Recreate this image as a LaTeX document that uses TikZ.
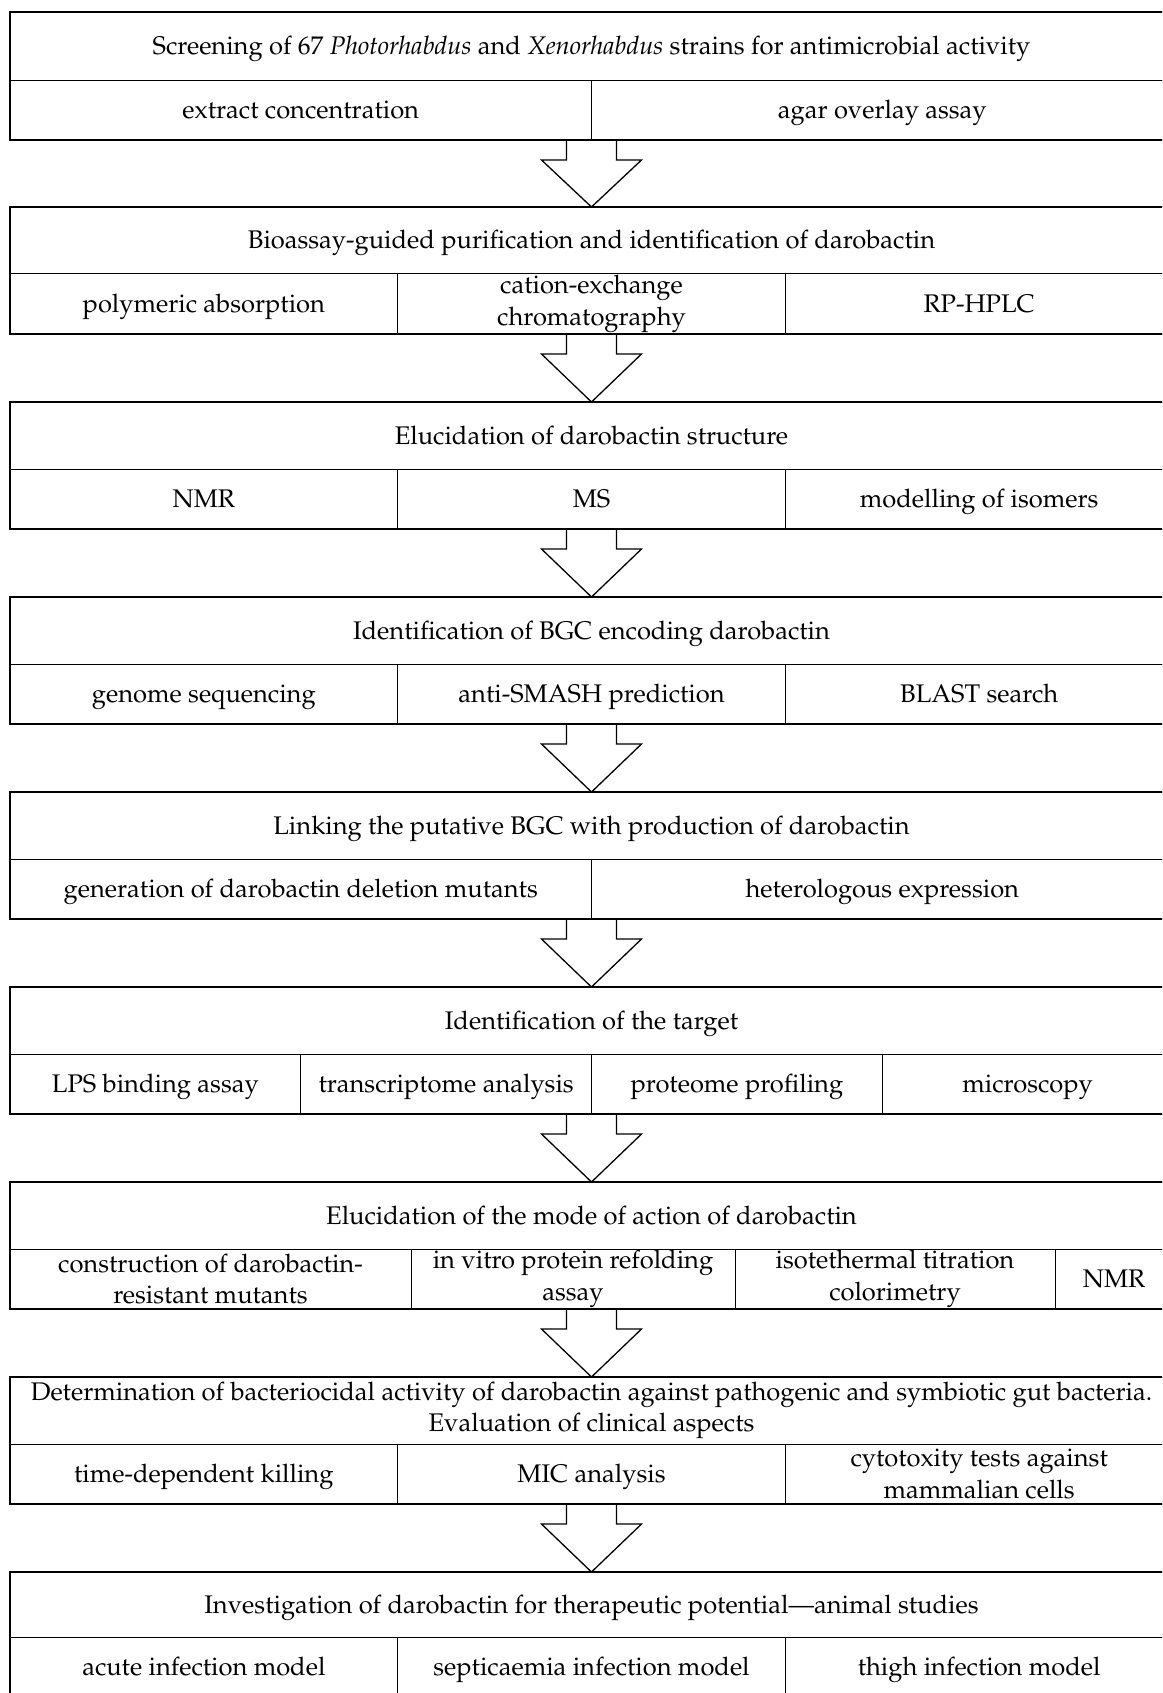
\documentclass[tikz,border=0pt]{standalone}
\usepackage[T1]{fontenc}
\usepackage{mathpazo}
\usepackage{tikz}
\usetikzlibrary{positioning,calc}

\newcommand{\flowarrow}[2]{\draw[blockarrow] ($(#1)+(-25,0)$) -- ++(0,20) -- ++(-25,0) -- (#2) -- ($(#1)+(50,20)$) -- ++(-25,0) -- ++(0,-20);}

\begin{document}
\begin{tikzpicture}[
    x=1pt, y=-1pt,
    font=\fontsize{25.5}{31.3}\selectfont,
    titlebox/.style={rectangle, draw, line width=1pt, minimum width=1163pt, minimum height=67pt, inner sep=0pt, outer sep=0pt, align=center, text height=20.5pt, text depth=3.5pt},
    cellbox/.style={rectangle, draw, line width=1pt, minimum height=60pt, inner sep=0pt, outer sep=0pt, align=center, anchor=north west, text height=20.5pt, text depth=3.5pt},
    twoline/.style={text height=, text depth=},
    frame/.style={draw, line width=1.6pt},
    blockarrow/.style={draw, line width=1.3pt, line join=miter}
]
    \useasboundingbox (0,0) rectangle (1162,1693);
    \clip (0,0) rectangle (1162,1693);

    % Screening
    \node[titlebox, minimum height=69pt] (t1) at (591.5,46.5) {Screening of 67 \textit{Photorhabdus} and \textit{Xenorhabdus} strains for antimicrobial activity};
    \node[cellbox, minimum width=581.5pt, minimum height=59pt] (c1a) at (t1.south west) {extract concentration};
    \node[cellbox, minimum width=581.5pt, minimum height=59pt] (c1b) at (c1a.north east) {agar overlay assay};
    \draw[frame] (t1.north west) rectangle (c1b.south east);

    % Purification
    \node[titlebox] (t2) at (591.5,240.5) {Bioassay-guided purification and identification of darobactin};
    \node[cellbox, minimum width=387.67pt] (c2a) at (t2.south west) {polymeric absorption};
    \node[cellbox, twoline, minimum width=387.67pt] (c2b) at (c2a.north east) {cation-exchange\\chromatography};
    \node[cellbox, minimum width=387.67pt] (c2c) at (c2b.north east) {RP-HPLC};
    \draw[frame] (t2.north west) rectangle (c2c.south east);

    % Structure
    \node[titlebox] (t3) at (591.5,435.5) {Elucidation of darobactin structure};
    \node[cellbox, minimum width=387.67pt] (c3a) at (t3.south west) {NMR};
    \node[cellbox, minimum width=387.67pt] (c3b) at (c3a.north east) {MS};
    \node[cellbox, minimum width=387.67pt] (c3c) at (c3b.north east) {modelling of isomers};
    \draw[frame] (t3.north west) rectangle (c3c.south east);

    % BGC
    \node[titlebox] (t4) at (591.5,630.5) {Identification of BGC encoding darobactin};
    \node[cellbox, minimum width=387.67pt] (c4a) at (t4.south west) {genome sequencing};
    \node[cellbox, minimum width=387.67pt] (c4b) at (c4a.north east) {anti-SMASH prediction};
    \node[cellbox, minimum width=387.67pt] (c4c) at (c4b.north east) {BLAST search};
    \draw[frame] (t4.north west) rectangle (c4c.south east);

    % Linking
    \node[titlebox] (t5) at (591.5,825.5) {Linking the putative BGC with production of darobactin};
    \node[cellbox, minimum width=581.5pt] (c5a) at (t5.south west) {generation of darobactin deletion mutants};
    \node[cellbox, minimum width=581.5pt] (c5b) at (c5a.north east) {heterologous expression};
    \draw[frame] (t5.north west) rectangle (c5b.south east);

    % Target
    \node[titlebox] (t6) at (591.5,1020.5) {Identification of the target};
    \node[cellbox, minimum width=290.75pt] (c6a) at (t6.south west) {LPS binding assay};
    \node[cellbox, minimum width=290.75pt] (c6b) at (c6a.north east) {transcriptome analysis};
    \node[cellbox, minimum width=290.75pt] (c6c) at (c6b.north east) {proteome profiling};
    \node[cellbox, minimum width=290.75pt] (c6d) at (c6c.north east) {microscopy};
    \draw[frame] (t6.north west) rectangle (c6d.south east);

    % Mode of action
    \node[titlebox] (t7) at (591.5,1215.5) {Elucidation of the mode of action of darobactin};
    \node[cellbox, twoline, minimum width=401pt] (c7a) at (t7.south west) {construction of darobactin-\\resistant mutants};
    \node[cellbox, twoline, minimum width=324pt] (c7b) at (c7a.north east) {in vitro protein refolding\\assay};
    \node[cellbox, twoline, minimum width=320pt] (c7c) at (c7b.north east) {isotethermal titration\\colorimetry};
    \node[cellbox, minimum width=118pt] (c7d) at (c7c.north east) {NMR};
    \draw[frame] (t7.north west) rectangle (c7d.south east);

    % Activity
    \node[titlebox, twoline] (t8) at (591.5,1410.5) {Determination of bacteriocidal activity of darobactin against pathogenic and symbiotic gut bacteria.\\Evaluation of clinical aspects};
    \node[cellbox, minimum width=387.67pt] (c8a) at (t8.south west) {time-dependent killing};
    \node[cellbox, minimum width=387.67pt] (c8b) at (c8a.north east) {MIC analysis};
    \node[cellbox, twoline, minimum width=387.67pt] (c8c) at (c8b.north east) {cytotoxity tests against\\mammalian cells};
    \draw[frame] (t8.north west) rectangle (c8c.south east);

    % Animal studies
    \node[titlebox, minimum height=65pt] (t9) at (591.5,1604.5) {Investigation of darobactin for therapeutic potential---animal studies};
    \node[cellbox, minimum width=387.67pt] (c9a) at (t9.south west) {acute infection model};
    \node[cellbox, minimum width=387.67pt] (c9b) at (c9a.north east) {septicaemia infection model};
    \node[cellbox, minimum width=387.67pt] (c9c) at (c9b.north east) {thigh infection model};
    \draw[frame] (t9.north west) rectangle (c9c.south east);

    % Arrows
    \foreach \i/\j in {1/2,2/3,3/4,4/5,5/6,6/7,7/8,8/9} {
        \coordinate (a\i) at (c\i a.south -| t\i.south);
        \flowarrow{a\i}{t\j.north}
    }
\end{tikzpicture}
\end{document}
